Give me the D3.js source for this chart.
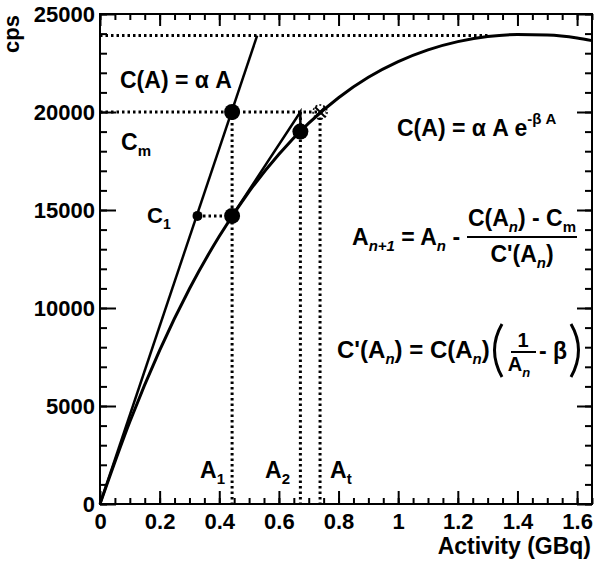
<!DOCTYPE html>
<html>
<head>
<meta charset="utf-8">
<script src="https://cdn.jsdelivr.net/npm/d3@7/dist/d3.min.js"></script>
<style>
body { margin: 0; background: #fff; }
svg { display: block; font-family: "Liberation Sans", Arial, sans-serif; font-weight: bold; }
</style>
</head>
<body>
<svg id="chart" width="600" height="563"></svg>
<script>
// curve C(A) = alpha A exp(-beta A)
var curveA = [0, 0.1, 0.2, 0.3, 0.4, 0.5, 0.6, 0.7, 0.8, 0.9, 1.0, 1.1, 1.2, 1.3, 1.4, 1.5, 1.6, 1.65];
var curveC = [0, 4200, 7840, 10980, 13660, 15940, 17850, 19430, 20730, 21770, 22570, 23170, 23590, 23850, 23950, 23930, 23780, 23640];

// straight line C(A) = alpha A
var lineA = [0, 0.527];
var lineC = [0, 23900];

// Newton iteration points
var Cm = 20000;
var Cmax = 23900;
var CmaxEndA = 1.3;
var A1 = 0.443;
var C1 = 14700;
var C1lineA = 0.327;
var A2 = 0.672;
var CA2 = 19000;
var At = 0.738;

var xTicks = [0, 0.2, 0.4, 0.6, 0.8, 1, 1.2, 1.4, 1.6];
var xMinor = d3.range(0, 1.66, 0.05);
var yTicks = [0, 5000, 10000, 15000, 20000, 25000];
var yMinor = d3.range(0, 25001, 1000);

var svg = d3.select('#chart');
var plotL = 100, plotR = 592, plotT = 14, plotB = 504;

var x = d3.scaleLinear().domain([0, 1.65]).range([plotL, plotR]);
var y = d3.scaleLinear().domain([0, 25000]).range([plotB, plotT]);

function cleanAxis(g) {
  g.select('.domain').remove();
  g.selectAll('line').attr('stroke', '#000').attr('stroke-width', 2);
}

// minor ticks on all four sides
svg.append('g').attr('transform', 'translate(0,' + plotB + ')')
  .call(d3.axisBottom(x).tickValues(xMinor).tickSize(-6).tickFormat(''))
  .call(cleanAxis);
svg.append('g').attr('transform', 'translate(0,' + plotT + ')')
  .call(d3.axisTop(x).tickValues(xMinor).tickSize(-6).tickFormat(''))
  .call(cleanAxis);
svg.append('g').attr('transform', 'translate(' + plotL + ',0)')
  .call(d3.axisLeft(y).tickValues(yMinor).tickSize(-7).tickFormat(''))
  .call(cleanAxis);
svg.append('g').attr('transform', 'translate(' + plotR + ',0)')
  .call(d3.axisRight(y).tickValues(yMinor).tickSize(-7).tickFormat(''))
  .call(cleanAxis);

// major ticks + labels
svg.append('g').attr('transform', 'translate(0,' + plotB + ')')
  .call(d3.axisBottom(x).tickValues(xTicks).tickSize(-13).tickPadding(9)
    .tickFormat(function(d) { return d; }))
  .call(cleanAxis)
  .selectAll('text').attr('font-size', 22).attr('font-family', 'Liberation Sans').attr('font-weight', 'bold').attr('fill', '#000');
svg.append('g').attr('transform', 'translate(0,' + plotT + ')')
  .call(d3.axisTop(x).tickValues(xTicks).tickSize(-12).tickFormat(''))
  .call(cleanAxis);
svg.append('g').attr('transform', 'translate(' + plotL + ',0)')
  .call(d3.axisLeft(y).tickValues(yTicks).tickSize(-16).tickPadding(5).tickFormat(d3.format('d')))
  .call(cleanAxis)
  .selectAll('text').attr('font-size', 22).attr('font-family', 'Liberation Sans').attr('font-weight', 'bold').attr('fill', '#000');
svg.append('g').attr('transform', 'translate(' + plotR + ',0)')
  .call(d3.axisRight(y).tickValues(yTicks).tickSize(-15).tickFormat(''))
  .call(cleanAxis);

// frame
svg.append('rect')
  .attr('x', plotL).attr('y', plotT)
  .attr('width', plotR - plotL).attr('height', plotB - plotT)
  .attr('fill', 'none').attr('stroke', '#000').attr('stroke-width', 2);

// axis titles
svg.append('text')
  .attr('transform', 'translate(19,' + (plotT + 1) + ') rotate(-90)')
  .attr('text-anchor', 'end').attr('font-size', 22)
  .text('cps');
svg.append('text')
  .attr('x', 591).attr('y', 554)
  .attr('text-anchor', 'end').attr('font-size', 23)
  .text('Activity (GBq)');

// dotted guide lines
var dotted = svg.append('g')
  .attr('stroke', '#000').attr('stroke-width', 3)
  .attr('stroke-dasharray', '2.5,3').attr('fill', 'none');
dotted.append('line')
  .attr('x1', x(0)).attr('x2', x(CmaxEndA))
  .attr('y1', y(Cmax)).attr('y2', y(Cmax));
dotted.append('line')
  .attr('x1', x(0)).attr('x2', x(At) + 6)
  .attr('y1', y(Cm)).attr('y2', y(Cm));
dotted.append('line')
  .attr('x1', x(C1lineA)).attr('x2', x(A1))
  .attr('y1', y(C1)).attr('y2', y(C1));
[A1, A2, At].forEach(function(a) {
  dotted.append('line')
    .attr('x1', x(a)).attr('x2', x(a))
    .attr('y1', y(Cm)).attr('y2', y(0));
});

// curve and straight line
var curvePts = curveA.map(function(a, i) { return [a, curveC[i]]; });
var gen = d3.line()
  .x(function(d) { return x(d[0]); })
  .y(function(d) { return y(d[1]); })
  .curve(d3.curveMonotoneX);
svg.append('path')
  .datum(curvePts)
  .attr('d', gen)
  .attr('fill', 'none').attr('stroke', '#000').attr('stroke-width', 3);

svg.append('path')
  .datum(lineA.map(function(a, i) { return [a, lineC[i]]; }))
  .attr('d', d3.line().x(function(d) { return x(d[0]); }).y(function(d) { return y(d[1]); }))
  .attr('fill', 'none').attr('stroke', '#000').attr('stroke-width', 2.5);

// tangent step from A1 to A2
svg.append('path')
  .datum([[A1, C1], [A2, Cm], [A2, CA2]])
  .attr('d', d3.line().x(function(d) { return x(d[0]); }).y(function(d) { return y(d[1]); }))
  .attr('fill', 'none').attr('stroke', '#000').attr('stroke-width', 2.5);

// points
var pts = [[A1, Cm, 8], [A1, C1, 8], [A2, CA2, 8], [C1lineA, C1, 5]];
svg.selectAll('.pt')
  .data(pts)
  .enter()
  .append('circle')
  .attr('cx', function(d) { return x(d[0]); })
  .attr('cy', function(d) { return y(d[1]); })
  .attr('r', function(d) { return d[2]; })
  .attr('fill', '#000');

// target marker
var tx = x(At), ty = y(Cm);
svg.append('circle')
  .attr('cx', tx).attr('cy', ty).attr('r', 7)
  .attr('fill', 'none').attr('stroke', '#000').attr('stroke-width', 1.5)
  .attr('stroke-dasharray', '2,2');
svg.append('path')
  .attr('d', 'M' + (tx - 5) + ',' + (ty - 5) + 'L' + (tx + 5) + ',' + (ty + 5) +
             'M' + (tx - 5) + ',' + (ty + 5) + 'L' + (tx + 5) + ',' + (ty - 5))
  .attr('stroke', '#000').attr('stroke-width', 2);

// helper for text with sub/superscripts: parts = [[str, 'n'|'sub'|'isub'|'sup'], ...]
function rich(px, py, parts, size, anchor) {
  var t = svg.append('text')
    .attr('x', px).attr('y', py)
    .attr('font-size', size)
    .attr('text-anchor', anchor || 'start');
  var shift = 0;
  parts.forEach(function(p) {
    var target = (p[1] === 'sub' || p[1] === 'isub') ? 6 : (p[1] === 'sup' ? -12 : 0);
    var ts = t.append('tspan')
      .attr('dy', target - shift)
      .text(p[0]);
    if (p[1] !== 'n') ts.attr('font-size', Math.round(size * 0.64));
    if (p[1] === 'isub') ts.attr('font-style', 'italic');
    shift = target;
  });
  return t;
}

rich(120, 88, [['C(A) = \u03b1 A', 'n']], 23);
rich(121, 150, [['C', 'n'], ['m', 'sub']], 23);
rich(147, 223, [['C', 'n'], ['1', 'sub']], 22);
rich(397, 136, [['C(A) = \u03b1 A e', 'n'], ['-\u03b2 A', 'sup']], 23);

rich(352, 245, [['A', 'n'], ['n+1', 'isub'], [' = A', 'n'], ['n', 'isub'], [' - ', 'n']], 23);
rich(522, 226, [['C(A', 'n'], ['n', 'isub'], [') - C', 'n'], ['m', 'sub']], 23, 'middle');
svg.append('line')
  .attr('x1', 467).attr('x2', 577).attr('y1', 237).attr('y2', 237)
  .attr('stroke', '#000').attr('stroke-width', 2);
rich(522, 262, [['C\'(A', 'n'], ['n', 'isub'], [')', 'n']], 23, 'middle');

rich(337, 358, [['C\'(A', 'n'], ['n', 'isub'], [') = C(A', 'n'], ['n', 'isub'], [')', 'n']], 24);
svg.append('path')
  .attr('d', 'M502,324 Q487,350 502,377')
  .attr('fill', 'none').attr('stroke', '#000').attr('stroke-width', 3);
svg.append('path')
  .attr('d', 'M571,324 Q586,350 571,377')
  .attr('fill', 'none').attr('stroke', '#000').attr('stroke-width', 3);
rich(523, 347, [['1', 'n']], 20, 'middle');
svg.append('line')
  .attr('x1', 511).attr('x2', 536).attr('y1', 352).attr('y2', 352)
  .attr('stroke', '#000').attr('stroke-width', 2);
rich(519, 371, [['A', 'n'], ['n', 'isub']], 20, 'middle');
rich(539, 359, [['- \u03b2', 'n']], 23);

// activity labels
rich(200, 478, [['A', 'n'], ['1', 'sub']], 23);
rich(265, 478, [['A', 'n'], ['2', 'sub']], 23);
rich(330, 478, [['A', 'n'], ['t', 'sub']], 23);
</script>
</body>
</html>
